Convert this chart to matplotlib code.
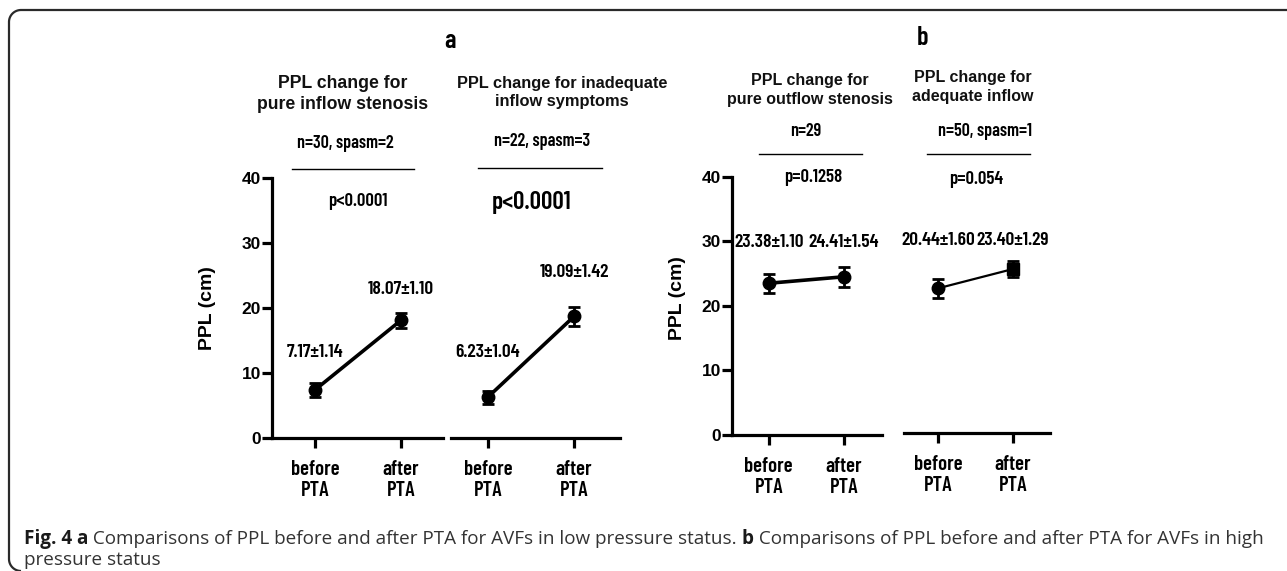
import matplotlib
matplotlib.use('Agg')
import matplotlib.pyplot as plt
import numpy as np

# values (PPL, cm)
groups = ['a1', 'a2', 'b1', 'b2']
titles = ['PPL change for\npure inflow stenosis',
          'PPL change for inadequate\ninflow symptoms',
          'PPL change for\npure outflow stenosis',
          'PPL change for\nadequate inflow']
n_labels = ['n=30, spasm=2', 'n=22, spasm=3', 'n=29', 'n=50, spasm=1']
p_labels = ['p<0.0001', 'p<0.0001', 'p=0.1258', 'p=0.054']
means = [[7.4, 18.1], [6.3, 18.7], [23.5, 24.5], [22.4, 25.4]]
errs = [[1.1, 1.1], [1.0, 1.5], [1.5, 1.55], [1.5, 1.27]]
mean_labels = [['7.17±1.14', '18.07±1.10'], ['6.23±1.04', '19.09±1.42'],
               ['23.38±1.10', '24.41±1.54'], ['20.44±1.60', '23.40±1.29']]
label_y = [[13.1, 22.8], [13.1, 25.5], [29.8, 29.8], [29.8, 29.8]]
xcats = ['before\nPTA', 'after\nPTA']
yticks = [0, 10, 20, 30, 40]

W, H = 1287, 571
COND = ['Barlow Condensed', 'Roboto Condensed', 'DejaVu Sans']
ARIAL = ['Liberation Sans', 'DejaVu Sans']
OPEN = ['Open Sans', 'DejaVu Sans']

fig = plt.figure(figsize=(W / 100, H / 100), dpi=100)

# overlay in pixel coords for frame, titles and caption
ov = fig.add_axes([0, 0, 1, 1])
ov.set_xlim(0, W)
ov.set_ylim(H, 0)
ov.axis('off')

# frame: top edge + left edge, rounded corners
r = 12
th_top = np.linspace(np.pi / 2, np.pi, 20)
th_bot = np.linspace(np.pi, 1.5 * np.pi, 20)
fx = np.concatenate([[W + 5], 9 + r + r * np.cos(th_top), 9 + r + r * np.cos(th_bot)])
fy = np.concatenate([[10], 10 + r - r * np.sin(th_top), 559 - r * np.sin(th_bot)])
ov.plot(fx, fy, color='#2a2a2a', lw=1.6, solid_capstyle='butt')

# panel boxes: left, right, top(40), bottom(0), xlim
boxes = [(272, 443, 178, 438, (-0.5, 1.49)),
         (451, 620, 178, 438, (-0.43, 1.535)),
         (732, 882, 176.7, 435, (-0.49, 1.51)),
         (904, 1050, 174.7, 433, (-0.45, 1.49))]

axes = []
for i, (l, rr, t, b, xl) in enumerate(boxes):
    ax = fig.add_axes([l / W, 1 - b / H, (rr - l) / W, (b - t) / H])
    ax.patch.set_alpha(0)
    ax.set_ylim(0, 40)
    ax.set_xlim(*xl)
    for s in ['top', 'right']:
        ax.spines[s].set_visible(False)
    ax.spines['bottom'].set_linewidth(2.3)
    ax.spines['left'].set_linewidth(2.3)
    ax.set_xticks([0, 1])
    ax.set_xticklabels(xcats, fontfamily=COND, fontweight='semibold', fontsize=15,
                       linespacing=1.12)
    ax.tick_params(axis='x', direction='out', length=7, width=2.3, pad=9)
    if i in (0, 2):
        ax.set_yticks(yticks)
        ax.set_yticklabels([str(v) for v in yticks], fontfamily=ARIAL,
                           fontweight='bold', fontsize=12.5)
        ax.tick_params(axis='y', direction='out', length=7, width=2.3, pad=1)
    else:
        ax.spines['left'].set_visible(False)
        ax.set_yticks([])
    axes.append(ax)

# data marks
for i, ax in enumerate(axes):
    lw = 1.6 if i == 3 else 2.6
    ax.plot([0, 1], means[i], color='black', lw=lw, zorder=2)
    ax.errorbar([0, 1], means[i], yerr=errs[i], fmt='none', ecolor='black',
                elinewidth=2, capsize=4.5, capthick=2, zorder=3)
    marks = ['o', 's'] if i == 3 else ['o', 'o']
    for k in range(2):
        ax.plot(k, means[i][k], marker=marks[k], ms=9, color='black', zorder=4,
                clip_on=False)
        ax.text(k, label_y[i][k], mean_labels[i][k], ha='center', va='center',
                fontfamily=COND, fontweight='semibold', fontsize=14)

# headings above each panel (pixel positions)
title_pos = [(343, 94, 12.7, 1.3), (562, 92.5, 11.8, 1.2),
             (810, 90, 11.5, 1.3), (973, 87, 11.5, 1.3)]
n_pos = [(345, 143), (542, 142), (806, 131), (985, 131)]
bar_pos = [(292, 414, 169), (478, 602, 168), (759, 862, 154), (927, 1030, 154)]
p_pos = [(358, 202, 13.5), (532, 203, 18), (813, 178, 13.5), (976, 179, 13.5)]
for i in range(4):
    x, y, fs, ls = title_pos[i]
    ov.text(x, y, titles[i], ha='center', va='center', fontfamily=ARIAL,
            fontweight='bold', fontsize=fs, linespacing=ls, color='#111')
    x, y = n_pos[i]
    ov.text(x, y, n_labels[i], ha='center', va='center', fontfamily=COND,
            fontweight='semibold', fontsize=13)
    x0, x1, y = bar_pos[i]
    ov.plot([x0, x1], [y, y], color='black', lw=1.0)
    x, y, fs = p_pos[i]
    ov.text(x, y, p_labels[i], ha='center', va='center', fontfamily=COND,
            fontweight='semibold', fontsize=fs)

ov.text(450, 41, 'a', ha='center', va='center', fontfamily=COND,
        fontweight='semibold', fontsize=19)
ov.text(923, 38, 'b', ha='center', va='center', fontfamily=COND,
        fontweight='semibold', fontsize=19)
for x, y in [(207, 308), (677, 298)]:
    ov.text(x, y, 'PPL (cm)', ha='center', va='center', rotation=90,
            fontfamily=ARIAL, fontweight='bold', fontsize=14)

# caption, bold and regular runs on one line
line1 = [('Fig. 4 a', 'bold'),
         (' Comparisons of PPL before and after PTA for AVFs in low pressure status. ', 'normal'),
         ('b', 'bold'),
         (' Comparisons of PPL before and after PTA for AVFs in high', 'normal')]
renderer = fig.canvas.get_renderer()
x = 24
for s, w in line1:
    t = ov.text(x, 539, s, ha='left', va='center', fontfamily=OPEN, fontweight=w,
                fontsize=13.6, color='#1a1a1a' if w == 'bold' else '#333333')
    bb = t.get_window_extent(renderer)
    x += bb.width
ov.text(24, 560, 'pressure status', ha='left', va='center', fontfamily=OPEN,
        fontsize=13.6, color='#333333')

fig.savefig('out.png', dpi=100)
